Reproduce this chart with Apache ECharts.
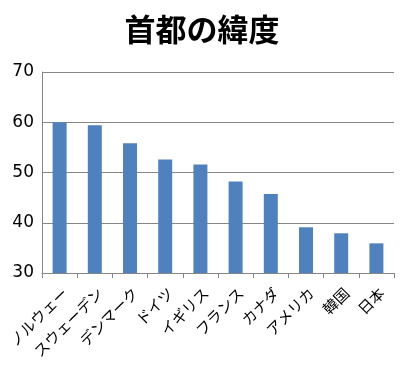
<!DOCTYPE html>
<html><head><meta charset="utf-8">
<script src="https://cdn.jsdelivr.net/npm/echarts@6/dist/echarts.min.js"></script>
<style>html,body{margin:0;padding:0;background:#fff}#c{width:404px;height:369px}</style>
</head><body><div id="c"></div>
<script>
const categories = ['ノルウェー','スウェーデン','デンマーク','ドイツ','イギリス','フランス','カナダ','アメリカ','韓国','日本'];
const latitudes = [60.0, 59.4, 55.8, 52.6, 51.6, 48.2, 45.7, 39.1, 37.9, 35.9];
const yTicks = {min: 30, max: 70, interval: 10};
const chart = echarts.init(document.getElementById('c'));
chart.setOption({
  animation: false,
  backgroundColor: '#fff',
  title: {text: '首都の緯度', left: 'center', top: 9,
    textStyle: {fontFamily: 'Noto Sans CJK JP', fontSize: 31, fontWeight: 'bold', color: '#000'}},
  grid: {left: 42, right: 10, top: 72, bottom: 96, containLabel: false, outerBoundsMode: 'none'},
  xAxis: {type: 'category', data: categories,
    axisLine: {lineStyle: {color: '#868686'}},
    axisTick: {show: true, length: 5, lineStyle: {color: '#868686'}},
    axisLabel: {rotate: 45, interval: 0, margin: 12, verticalAlign: 'top', color: '#000',
      fontFamily: 'Noto Sans CJK JP', fontSize: 15}},
  yAxis: {type: 'value', min: yTicks.min, max: yTicks.max, interval: yTicks.interval,
    axisLine: {show: true, lineStyle: {color: '#868686'}},
    axisTick: {show: false},
    splitLine: {lineStyle: {color: '#868686'}},
    axisLabel: {color: '#000', fontFamily: 'DejaVu Sans', fontSize: 17, margin: 8}},
  series: [{type: 'bar', data: latitudes, barWidth: 14, itemStyle: {color: '#4F81BD'}}]
});
</script></body></html>
